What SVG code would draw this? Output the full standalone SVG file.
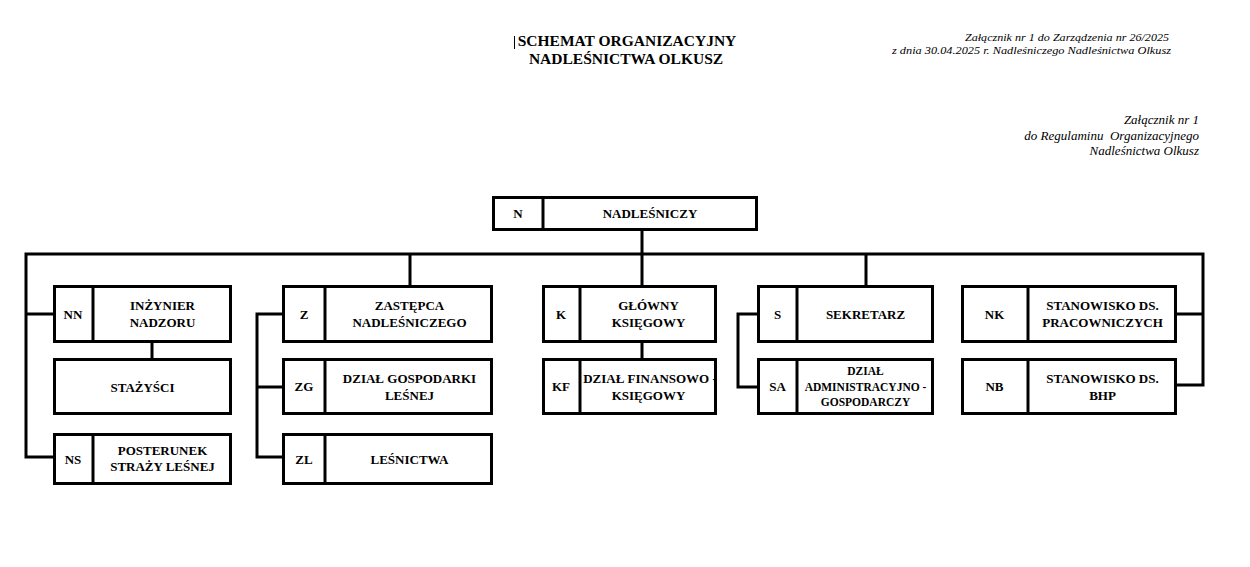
<svg xmlns="http://www.w3.org/2000/svg" width="1250" height="567" viewBox="0 0 1250 567">
<style>
.bx{fill:#fff;stroke:#000;stroke-width:3}
.dv{stroke:#000;stroke-width:3}
.cn{fill:none;stroke:#000;stroke-width:3;stroke-linecap:square;stroke-linejoin:miter}
.t{font-family:"Liberation Serif","Times New Roman",serif;font-weight:bold;font-size:13px;text-anchor:middle;fill:#000}
.ts{font-size:11.5px}
.ttl{font-family:"Liberation Serif","Times New Roman",serif;font-weight:bold;font-size:15.5px;text-anchor:middle;fill:#000}
.hd{font-family:"Liberation Serif","Times New Roman",serif;font-style:italic;text-anchor:end;fill:#000}
</style>
<rect width="1250" height="567" fill="#fff"/>
<g id="header">
<line x1="514.5" y1="36" x2="514.5" y2="49" stroke="#000" stroke-width="1"/>
<text class="ttl" x="627" y="45.5">SCHEMAT ORGANIZACYJNY</text>
<text class="ttl" x="626" y="64">NADLEŚNICTWA OLKUSZ</text>
<text class="hd" x="1169" y="41" font-size="11" textLength="204" lengthAdjust="spacingAndGlyphs">Załącznik nr 1 do Zarządzenia nr 26/2025</text>
<text class="hd" x="1171" y="53.5" font-size="11" textLength="279" lengthAdjust="spacingAndGlyphs">z dnia 30.04.2025 r. Nadleśniczego Nadleśnictwa Olkusz</text>
<text class="hd" x="1199" y="124" font-size="13">Załącznik nr 1</text>
<text class="hd" x="1199" y="139.5" font-size="13" xml:space="preserve">do Regulaminu  Organizacyjnego</text>
<text class="hd" x="1199" y="154.5" font-size="13">Nadleśnictwa Olkusz</text>
</g>
<g id="connectors">
<path class="cn" d="M642,231 V285 M26,457 V254 H1203 V385 M26,314 H53 M26,457 H53 M152,343 V358 M410,254 V285 M282,314 H257 V457 H282 M257,387 H282 M642,343 V358 M866,254 V285 M757,314 H738 V387 H757 M1177,314 H1203 M1177,385 H1203"/>
</g>
<g id="N">
<rect class="bx" x="493.5" y="197.5" width="263" height="32"/>
<line class="dv" x1="543" y1="197" x2="543" y2="230"/>
<text class="t" x="518" y="218">N</text>
<text class="t" x="650" y="218">NADLEŚNICZY</text>
</g>
<g id="NN">
<rect class="bx" x="54.5" y="286.5" width="176" height="55"/>
<line class="dv" x1="93" y1="286" x2="93" y2="342"/>
<text class="t" x="73" y="318.5">NN</text>
<text class="t" x="162.5" y="310">INŻYNIER</text>
<text class="t" x="162.5" y="326.5">NADZORU</text>
</g>
<g id="STAZYSCI">
<rect class="bx" x="54.5" y="359.5" width="176" height="54"/>
<text class="t" x="142.5" y="391.5">STAŻYŚCI</text>
</g>
<g id="NS">
<rect class="bx" x="54.5" y="434.5" width="176" height="49"/>
<line class="dv" x1="93" y1="434" x2="93" y2="484"/>
<text class="t" x="73" y="463.5">NS</text>
<text class="t" x="162.5" y="454.5">POSTERUNEK</text>
<text class="t" x="162.5" y="471">STRAŻY LEŚNEJ</text>
</g>
<g id="Z">
<rect class="bx" x="283.5" y="286.5" width="208" height="55"/>
<line class="dv" x1="325" y1="286" x2="325" y2="342"/>
<text class="t" x="304" y="318.5">Z</text>
<text class="t" x="409.5" y="310">ZASTĘPCA</text>
<text class="t" x="409.5" y="326.5">NADLEŚNICZEGO</text>
</g>
<g id="ZG">
<rect class="bx" x="283.5" y="359.5" width="208" height="54"/>
<line class="dv" x1="325" y1="359" x2="325" y2="414"/>
<text class="t" x="304" y="391">ZG</text>
<text class="t" x="409.5" y="383">DZIAŁ GOSPODARKI</text>
<text class="t" x="409.5" y="399.5">LEŚNEJ</text>
</g>
<g id="ZL">
<rect class="bx" x="283.5" y="434.5" width="208" height="49"/>
<line class="dv" x1="325" y1="434" x2="325" y2="484"/>
<text class="t" x="304" y="463.5">ZL</text>
<text class="t" x="409.5" y="463.5">LEŚNICTWA</text>
</g>
<g id="K">
<rect class="bx" x="543.5" y="286.5" width="172" height="55"/>
<line class="dv" x1="580" y1="286" x2="580" y2="342"/>
<text class="t" x="561" y="318.5">K</text>
<text class="t" x="648.5" y="310">GŁÓWNY</text>
<text class="t" x="648.5" y="327">KSIĘGOWY</text>
</g>
<g id="KF">
<rect class="bx" x="543.5" y="359.5" width="172" height="54"/>
<line class="dv" x1="580" y1="359" x2="580" y2="414"/>
<text class="t" x="561" y="391">KF</text>
<text class="t" x="650" y="383">DZIAŁ FINANSOWO -</text>
<text class="t" x="648.5" y="399.5">KSIĘGOWY</text>
</g>
<g id="S">
<rect class="bx" x="758.5" y="286.5" width="174" height="55"/>
<line class="dv" x1="797" y1="286" x2="797" y2="342"/>
<text class="t" x="777.5" y="318.5">S</text>
<text class="t" x="865.5" y="318.5">SEKRETARZ</text>
</g>
<g id="SA">
<rect class="bx" x="758.5" y="359.5" width="174" height="54"/>
<line class="dv" x1="797" y1="359" x2="797" y2="414"/>
<text class="t" x="777.5" y="391">SA</text>
<text class="t ts" x="865.5" y="375">DZIAŁ</text>
<text class="t ts" x="865.5" y="390.5">ADMINISTRACYJNO -</text>
<text class="t ts" x="865.5" y="405.5">GOSPODARCZY</text>
</g>
<g id="NK">
<rect class="bx" x="962.5" y="286.5" width="213" height="55"/>
<line class="dv" x1="1028" y1="286" x2="1028" y2="342"/>
<text class="t" x="994.5" y="318.5">NK</text>
<text class="t" x="1102.5" y="310">STANOWISKO DS.</text>
<text class="t" x="1102.5" y="326.5">PRACOWNICZYCH</text>
</g>
<g id="NB">
<rect class="bx" x="962.5" y="359.5" width="213" height="54"/>
<line class="dv" x1="1028" y1="359" x2="1028" y2="414"/>
<text class="t" x="994.5" y="391">NB</text>
<text class="t" x="1102.5" y="382.5">STANOWISKO DS.</text>
<text class="t" x="1102.5" y="399.5">BHP</text>
</g>
</svg>
